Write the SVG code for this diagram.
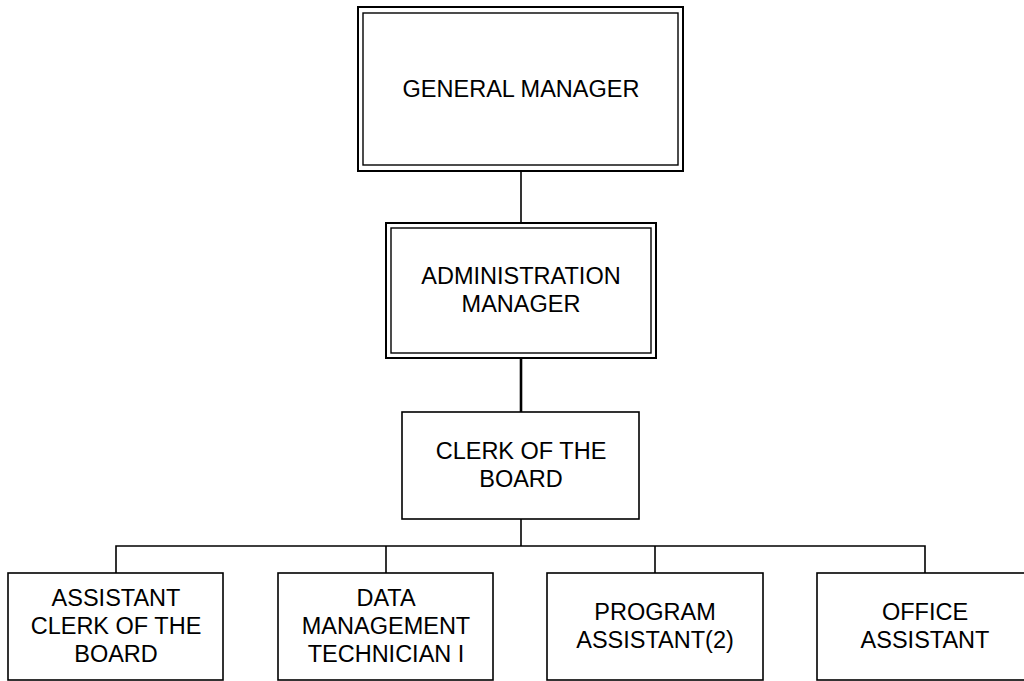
<svg xmlns="http://www.w3.org/2000/svg" width="1024" height="681" viewBox="0 0 1024 681">
<style>
.box{fill:#fff;stroke:#000;stroke-width:1.6}
.outer{fill:#fff;stroke:#000;stroke-width:2}
.inner{fill:none;stroke:#000;stroke-width:1.4}
.conn{fill:none;stroke:#000;stroke-width:1.6}
text{font-family:"Liberation Sans",Arial,sans-serif;font-size:23.5px;fill:#000;text-anchor:middle}
</style>
<rect width="1024" height="681" fill="#fff"/>
<g id="connectors">
<line class="conn" x1="521" y1="171" x2="521" y2="223"/>
<line class="conn" x1="521" y1="358" x2="521" y2="412" style="stroke-width:2.6"/>
<line class="conn" x1="521" y1="519" x2="521" y2="546"/>
<polyline class="conn" points="116,573 116,546 925,546 925,573"/>
<line class="conn" x1="386" y1="546" x2="386" y2="573"/>
<line class="conn" x1="655" y1="546" x2="655" y2="573"/>
</g>
<g id="general-manager">
<rect class="outer" x="358" y="7" width="325" height="164"/>
<rect class="inner" x="363" y="13" width="315" height="152"/>
<text x="521" y="97">GENERAL MANAGER</text>
</g>
<g id="administration-manager">
<rect class="outer" x="386" y="223" width="270" height="135"/>
<rect class="inner" x="391" y="228" width="260" height="125"/>
<text x="521" y="284">ADMINISTRATION</text>
<text x="521" y="312">MANAGER</text>
</g>
<g id="clerk-of-the-board">
<rect class="box" x="402" y="412" width="237" height="107"/>
<text x="521" y="459">CLERK OF THE</text>
<text x="521" y="487">BOARD</text>
</g>
<g id="assistant-clerk">
<rect class="box" x="8" y="573" width="215" height="107"/>
<text x="116" y="606">ASSISTANT</text>
<text x="116" y="634">CLERK OF THE</text>
<text x="116" y="662">BOARD</text>
</g>
<g id="data-management-technician">
<rect class="box" x="278" y="573" width="215" height="107"/>
<text x="386" y="606">DATA</text>
<text x="386" y="634">MANAGEMENT</text>
<text x="386" y="662">TECHNICIAN I</text>
</g>
<g id="program-assistant">
<rect class="box" x="547" y="573" width="216" height="107"/>
<text x="655" y="620">PROGRAM</text>
<text x="655" y="648">ASSISTANT(2)</text>
</g>
<g id="office-assistant">
<rect class="box" x="817" y="573" width="216" height="107"/>
<text x="925" y="620">OFFICE</text>
<text x="925" y="648">ASSISTANT</text>
</g>
</svg>
